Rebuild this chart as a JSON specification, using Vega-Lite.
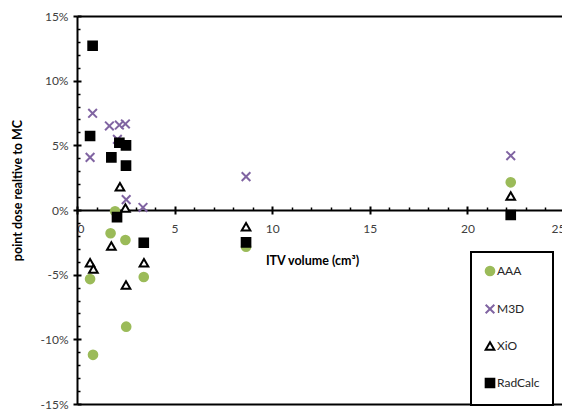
{
  "$schema": "https://vega.github.io/schema/vega-lite/v6.json",
  "width": 485,
  "height": 388,
  "autosize": "none",
  "padding": {"left": 77, "top": 16, "right": 0, "bottom": 5},
  "background": "white",
  "config": {
    "view": {"stroke": null},
    "font": "Lato",
    "axis": {
      "grid": false,
      "domainColor": "black",
      "tickColor": "black",
      "labelColor": "#404040",
      "labelFont": "Lato",
      "labelFontSize": 12,
      "titleFont": "Lato",
      "titleFontSize": 12.5,
      "titleColor": "black",
      "titleFontWeight": "bold"
    },
    "legend": {
      "orient": "none",
      "legendX": 394,
      "legendY": 236,
      "padding": 13,
      "strokeColor": "black",
      "strokeWidth": 2,
      "fillColor": "white",
      "rowPadding": 20,
      "labelFont": "Lato",
      "labelFontSize": 12,
      "labelColor": "#262626",
      "labelOffset": 1,
      "symbolSize": 75,
      "symbolStrokeWidth": 2
    }
  },
  "data": {
    "values": [
      {"series": "AAA", "itv": 0.67, "dose": -0.0534},
      {"series": "AAA", "itv": 0.82, "dose": -0.112},
      {"series": "AAA", "itv": 1.72, "dose": -0.018},
      {"series": "AAA", "itv": 1.95, "dose": -0.001},
      {"series": "AAA", "itv": 2.48, "dose": -0.0232},
      {"series": "AAA", "itv": 2.52, "dose": -0.0902},
      {"series": "AAA", "itv": 3.42, "dose": -0.0518},
      {"series": "AAA", "itv": 8.66, "dose": -0.0284},
      {"series": "AAA", "itv": 22.22, "dose": 0.0214},
      {"series": "M3D", "itv": 0.67, "dose": 0.0407},
      {"series": "M3D", "itv": 0.8, "dose": 0.0748},
      {"series": "M3D", "itv": 1.66, "dose": 0.065},
      {"series": "M3D", "itv": 2.07, "dose": 0.0547},
      {"series": "M3D", "itv": 2.17, "dose": 0.0657},
      {"series": "M3D", "itv": 2.48, "dose": 0.0665},
      {"series": "M3D", "itv": 2.52, "dose": 0.008},
      {"series": "M3D", "itv": 3.38, "dose": 0.002},
      {"series": "M3D", "itv": 8.66, "dose": 0.0258},
      {"series": "M3D", "itv": 22.22, "dose": 0.042},
      {"series": "XiO", "itv": 0.67, "dose": -0.0407},
      {"series": "XiO", "itv": 0.84, "dose": -0.0456},
      {"series": "XiO", "itv": 1.76, "dose": -0.0278},
      {"series": "XiO", "itv": 2.2, "dose": 0.018},
      {"series": "XiO", "itv": 2.48, "dose": 0.0015},
      {"series": "XiO", "itv": 2.51, "dose": -0.058},
      {"series": "XiO", "itv": 3.43, "dose": -0.0407},
      {"series": "XiO", "itv": 8.66, "dose": -0.0129},
      {"series": "XiO", "itv": 22.22, "dose": 0.0108},
      {"series": "RadCalc", "itv": 0.67, "dose": 0.0572},
      {"series": "RadCalc", "itv": 0.8, "dose": 0.127},
      {"series": "RadCalc", "itv": 1.76, "dose": 0.0407},
      {"series": "RadCalc", "itv": 2.05, "dose": -0.0055},
      {"series": "RadCalc", "itv": 2.17, "dose": 0.052},
      {"series": "RadCalc", "itv": 2.51, "dose": 0.05},
      {"series": "RadCalc", "itv": 2.51, "dose": 0.0343},
      {"series": "RadCalc", "itv": 3.42, "dose": -0.0253},
      {"series": "RadCalc", "itv": 8.66, "dose": -0.025},
      {"series": "RadCalc", "itv": 22.22, "dose": -0.0039}
    ]
  },
  "layer": [
    {
      "mark": {"type": "point", "filled": true, "size": 75, "strokeWidth": 2, "opacity": 1},
      "encoding": {
        "x": {
          "field": "itv", "type": "quantitative",
          "scale": {"domain": [0, 25], "range": [0, 488], "nice": false, "zero": false},
          "axis": {
            "orient": "bottom", "offset": -194,
            "values": [0, 5, 10, 15, 20, 25],
            "tickSize": 4, "tickWidth": 2, "domainWidth": 2,
            "labelPadding": 9,
            "title": "ITV volume (cm³)",
            "titlePadding": 20,
            "titleX": 235
          }
        },
        "y": {
          "field": "dose", "type": "quantitative",
          "scale": {"domain": [-0.15, 0.15], "nice": false},
          "axis": {
            "orient": "left",
            "values": [-0.15, -0.1, -0.05, 0, 0.05, 0.1, 0.15],
            "labelExpr": "(datum.value < -0.0001 ? '-' : '') + format(abs(datum.value), '.0%')",
            "tickSize": 4, "tickWidth": 2, "domainWidth": 2,
            "labelPadding": 5,
            "title": "point dose realtive to MC",
            "titleX": -60, "titleY": 174,
            "titleAlign": "center", "titleBaseline": "middle"
          }
        },
        "shape": {
          "field": "series", "type": "nominal",
          "scale": {"domain": ["AAA", "M3D", "XiO", "RadCalc"], "range": ["circle", "M-1,-1L1,1M-1,1L1,-1", "triangle-up", "square"]},
          "legend": {"title": null}
        },
        "fill": {
          "field": "series", "type": "nominal",
          "scale": {"domain": ["AAA", "M3D", "XiO", "RadCalc"], "range": ["#9BBB59", "transparent", "white", "black"]},
          "legend": {"title": null}
        },
        "stroke": {
          "field": "series", "type": "nominal",
          "scale": {"domain": ["AAA", "M3D", "XiO", "RadCalc"], "range": ["#9BBB59", "#8064A2", "black", "black"]},
          "legend": {"title": null}
        }
      }
    },
    {
      "mark": {"type": "point", "opacity": 0},
      "encoding": {
        "x": {"field": "itv", "type": "quantitative",
          "axis": {"orient": "top", "offset": -194, "values": [0, 5, 10, 15, 20, 25], "labels": false, "domain": false, "tickSize": 4, "tickWidth": 2, "title": null}},
        "y": {"field": "dose", "type": "quantitative",
          "axis": {"orient": "right", "offset": -485, "values": [-0.15, -0.1, -0.05, 0, 0.05, 0.1, 0.15], "labels": false, "domain": false, "tickSize": 4, "tickWidth": 2, "title": null}}
      }
    },
    {
      "mark": {"type": "point", "opacity": 0},
      "encoding": {
        "x": {"field": "itv", "type": "quantitative",
          "axis": {"orient": "top", "offset": -194, "values": [1, 2, 3, 4, 6, 7, 8, 9, 11, 12, 13, 14, 16, 17, 18, 19, 21, 22, 23, 24], "labels": false, "domain": false, "tickSize": 3, "tickWidth": 1.5, "title": null}},
        "y": {"field": "dose", "type": "quantitative",
          "axis": {"orient": "right", "offset": -485, "values": [-0.14, -0.13, -0.12, -0.11, -0.09, -0.08, -0.07, -0.06, -0.04, -0.03, -0.02, -0.01, 0.01, 0.02, 0.03, 0.04, 0.06, 0.07, 0.08, 0.09, 0.11, 0.12, 0.13, 0.14], "labels": false, "domain": false, "tickSize": 3, "tickWidth": 1.5, "title": null}}
      }
    },
    {
      "mark": {"type": "point", "opacity": 0},
      "encoding": {
        "x": {"field": "itv", "type": "quantitative",
          "axis": {"orient": "top", "offset": 0, "labels": false, "ticks": false, "domain": true, "domainWidth": 2, "title": null}},
        "y": {"field": "dose", "type": "quantitative", "axis": null}
      }
    },
    {
      "mark": {"type": "point", "opacity": 0},
      "encoding": {
        "x": {"field": "itv", "type": "quantitative",
          "axis": {"orient": "bottom", "offset": 0, "labels": false, "ticks": false, "domain": true, "domainWidth": 2, "title": null}},
        "y": {"field": "dose", "type": "quantitative", "axis": null}
      }
    }
  ],
  "resolve": {"axis": {"x": "independent", "y": "independent"}}
}
